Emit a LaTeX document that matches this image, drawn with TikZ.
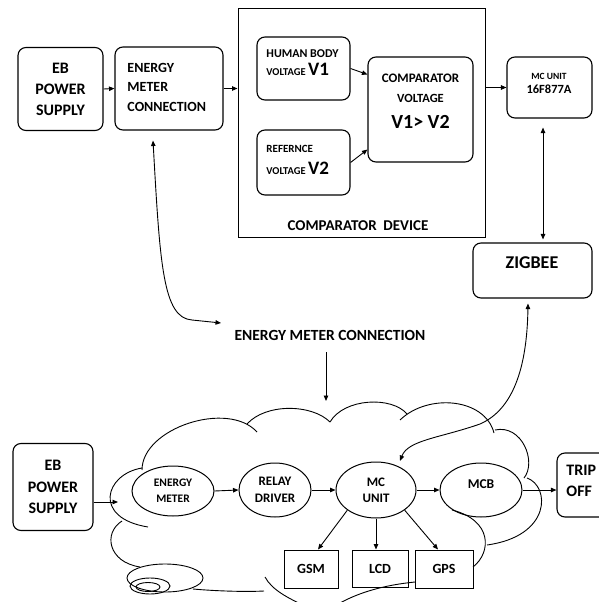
\documentclass[tikz,border=0pt]{standalone}
\usepackage{fontspec}
\setmainfont{Carlito}
\usetikzlibrary{arrows.meta,shapes.geometric}
\newcommand\fsz[2]{\fontsize{#1}{#2}\selectfont\bfseries}
\begin{document}
\begin{tikzpicture}[x=1pt,y=-1pt,line width=0.9pt,
 rbox/.style={draw,rounded corners=8pt,inner sep=0pt,line width=1.1pt},
 sbox/.style={draw,inner sep=0pt,line width=1pt},
 ell/.style={draw,ellipse,inner sep=0pt,line width=1pt},
 txt/.style={inner sep=0pt,align=center},
 arr/.style={-{Triangle[length=5.5pt,width=4.5pt]}},
 darr/.style={{Triangle[length=5.5pt,width=4.5pt]}-{Triangle[length=5.5pt,width=4.5pt]}},
 cl/.style={line width=0.9pt}]
\useasboundingbox (0,0) rectangle (599,602);

% ---------- top row ----------
\node[rbox,minimum width=85,minimum height=83,txt,font=\fsz{16}{21}] (eb1) at (60.5,89) {EB\\POWER\\SUPPLY};
\node[rbox,minimum width=108,minimum height=83] (emc) at (169,88.5) {};
\node[txt,align=left,anchor=west,font=\fsz{14}{19.5}] (emct) at (127,87) {ENERGY\\METER\\CONNECTION};

\node[sbox,minimum width=247,minimum height=228] (dev) at (361.5,123) {};
\node[rbox,minimum width=93,minimum height=63] (hum) at (303.5,68.5) {};
\node[txt,anchor=base west,font=\fsz{12}{14}] (hum1) at (266,57) {HUMAN BODY};
\node[txt,anchor=base west,font=\fsz{10.5}{14}] (hum2) at (266,75) {VOLTAGE {\fontsize{19}{20}\selectfont V1}};
\node[rbox,minimum width=93,minimum height=65] (ref) at (303.5,162.5) {};
\node[txt,anchor=base west,font=\fsz{11}{14}] (ref1) at (266,152) {REFERNCE};
\node[txt,anchor=base west,font=\fsz{10.5}{14}] (ref2) at (266,174) {VOLTAGE {\fontsize{19}{20}\selectfont V2}};

\node[rbox,minimum width=105,minimum height=105] (cmp) at (420.5,109.5) {};
\node[txt,anchor=base,font=\fsz{13}{15}] (cmp1) at (420.5,82) {COMPARATOR};
\node[txt,anchor=base,font=\fsz{12.5}{15}] (cmp2) at (420.5,102) {VOLTAGE};
\node[txt,anchor=base,font=\fsz{20}{22}] (cmp3) at (420.5,128) {V1> V2};
\node[txt,anchor=base,font=\fsz{15}{18}] (devt) at (358,230) {COMPARATOR\ \ DEVICE};

\node[rbox,minimum width=85,minimum height=61] (mcu) at (549.5,87.5) {};
\node[txt,anchor=base,font=\fsz{9.5}{12}] (mcu1) at (549,79) {MC UNIT};
\node[txt,anchor=base,font=\fsz{12.5}{14}] (mcu2) at (549,93) {16F877A};

\node[rbox,minimum width=119,minimum height=55] (zig) at (532.5,270.5) {};
\node[txt,anchor=base,font=\fsz{18}{20}] (zigt) at (532,268) {ZIGBEE};

\draw[arr] (eb1.east) -- (emc.west);
\draw[arr] (emc.east) -- (emc.east -| dev.west);
\draw[arr] (hum.east) -- ([yshift=35pt]cmp.west);
\draw[arr] (ref.east) -- ([yshift=-40pt]cmp.west);
\draw[arr] (dev.east |- mcu.west) -- (mcu.west);
\draw[darr] ([xshift=-6.5pt,yshift=-9pt]mcu.south) -- ([xshift=10.5pt,yshift=3pt]zig.north);

% ---------- middle label ----------
\node[txt,font=\fsz{15.5}{18}] (eml) at (330,335) {ENERGY METER CONNECTION};
\coordinate (emtip) at (221,323);
\draw[darr] ([xshift=-16pt,yshift=-10pt]emc.south) .. controls (160,265) and (163,318) .. (192,320) -- (emtip);
\coordinate (cup) at (326,352);
\coordinate (cdown) at (326,401);
\draw[arr] (cup) -- (cdown);

% ---------- bottom ----------
\node[rbox,minimum width=80,minimum height=87,txt,font=\fsz{16}{21.5}] (eb2) at (53,487) {EB\\POWER\\SUPPLY};
\node[ell,minimum width=82,minimum height=50,txt,font=\fsz{11.5}{16}] (em2) at (173,491) {ENERGY\\METER};
\node[ell,minimum width=72,minimum height=54,txt,font=\fsz{13}{17}] (rel) at (275,490) {RELAY\\DRIVER};
\node[ell,minimum width=80,minimum height=56,txt,font=\fsz{13}{16}] (mc2) at (376,490) {MC\\UNIT};
\node[ell,minimum width=82,minimum height=54] (mcb) at (481,490) {};
\node[txt,font=\fsz{13.5}{16}] (mcbt) at (481,484) {MCB};
\node[rbox,minimum width=60,minimum height=64] (trip) at (587,485) {};
\node[txt,align=left,anchor=west,font=\fsz{16}{21}] (tript) at (566,481) {TRIP\\OFF};
\node[sbox,minimum width=54,minimum height=38,font=\fsz{14}{16}] (gsm) at (311,569) {GSM};
\node[sbox,minimum width=56,minimum height=37,font=\fsz{14}{16}] (lcd) at (380,568.5) {LCD};
\node[sbox,minimum width=58,minimum height=38,font=\fsz{14}{16}] (gps) at (444,569) {GPS};

\coordinate (cin) at (118,502);
\draw[arr] ([yshift=-15pt]eb2.east) -- (cin);
\draw[arr] (em2.east) -- (rel.west);
\draw[arr] (rel.east) -- (mc2.west);
\draw[arr] (mc2.east) -- (mcb.west);
\draw[arr] (mcb.east) -- (mcb.east -| trip.west);
\draw[arr] (mc2.south west) -- ([xshift=7pt]gsm.north);
\draw[arr] (mc2.south) -- (mc2.south |- lcd.north);
\draw[arr] (mc2.south east) -- ([xshift=-6pt]gps.north);

\coordinate (mcin) at (400,461);
\draw[darr] ([xshift=-4.5pt,yshift=-5pt]zig.south) .. controls (527,370) and (512,410) .. (480,424) .. controls (440,438) and (408,440) .. (mcin);

% ---------- cloud ----------
\draw[cl] (142,468) .. controls (105,474) and (92,518) .. (148,527);
\draw[cl] (122,521) .. controls (103,533) and (108,562) .. (140,567);
\draw[cl] (142,470) .. controls (142,428) and (228,400) .. (257,432);
\draw[cl] (247,424) .. controls (266,403) and (312,404) .. (330,422);
\draw[cl] (330,422) .. controls (344,398) and (392,396) .. (407,414);
\draw[cl] (400,420) .. controls (428,393) and (485,398) .. (494,433);
\draw[cl] (495,430) .. controls (522,424) and (537,462) .. (524,478);
\draw[cl] (527,478) .. controls (550,486) and (552,536) .. (487,545);
\draw[cl] (452,510) .. controls (492,520) and (492,552) .. (473,567);
\draw[cl] (415,582) .. controls (385,585) and (360,592) .. (340,603);
\draw[cl] (265,577) .. controls (272,590) and (288,598) .. (305,606);
\draw[cl] (193,589) .. controls (215,591) and (245,592) .. (264,591);
\draw[cl] (165,578) ellipse (38 and 14);
\draw[cl] (150,586) ellipse (20 and 8);
\draw[cl] (148,587) ellipse (12 and 4.5);
\end{tikzpicture}
\end{document}
